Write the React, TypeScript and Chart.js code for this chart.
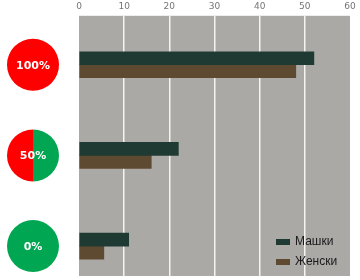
import React, { useEffect, useRef } from "react";
import { Chart, registerables } from "chart.js";

Chart.register(...registerables);

const categories = ["100%", "50%", "0%"];
const redShare = [100, 50, 0];
const maleValues = [52, 22, 11];
const femaleValues = [48, 16, 5.5];
const seriesLabels = ["Машки", "Женски"];
const seriesColors = ["#1f3a33", "#5e4a31"];
const xTicks = [0, 10, 20, 30, 40, 50, 60];

const bgPlugin = {
  id: "bgPlugin",
  beforeDraw(chart: any) {
    const { ctx, chartArea } = chart;
    ctx.save();
    ctx.fillStyle = "#aaa9a6";
    ctx.fillRect(chartArea.left, chartArea.top, chartArea.right - chartArea.left, chartArea.bottom - chartArea.top);
    ctx.restore();
  },
};

const sidePlugin = {
  id: "sidePlugin",
  afterDraw(chart: any) {
    const { ctx, chartArea } = chart;
    const yScale = chart.scales.y;
    ctx.save();
    categories.forEach((label, i) => {
      const cy = yScale.getPixelForValue(i);
      const cx = chartArea.left - 46;
      const r = 26;
      const f = redShare[i] / 100;
      const start = -Math.PI / 2;
      if (f < 1) {
        ctx.beginPath();
        ctx.moveTo(cx, cy);
        ctx.arc(cx, cy, r, start, start + (1 - f) * Math.PI * 2, false);
        ctx.closePath();
        ctx.fillStyle = "#00a651";
        ctx.fill();
      }
      if (f > 0) {
        ctx.beginPath();
        ctx.moveTo(cx, cy);
        ctx.arc(cx, cy, r, start, start - f * Math.PI * 2, true);
        ctx.closePath();
        ctx.fillStyle = "#ff0000";
        ctx.fill();
      }
      ctx.fillStyle = "#ffffff";
      ctx.font = "bold 11px 'DejaVu Sans', sans-serif";
      ctx.textAlign = "center";
      ctx.textBaseline = "middle";
      ctx.fillText(label, cx, cy + 1);
    });
    // legend
    const lx = chartArea.right - 74;
    seriesLabels.forEach((label, i) => {
      const ly = chartArea.bottom - 34 + i * 20;
      ctx.fillStyle = seriesColors[i];
      ctx.fillRect(lx, ly - 3, 14, 6);
      ctx.fillStyle = "#1a1a1a";
      ctx.font = "12px 'Liberation Sans', Arial, sans-serif";
      ctx.textAlign = "left";
      ctx.textBaseline = "middle";
      ctx.fillText(label, lx + 19, ly);
    });
    ctx.restore();
  },
};

export default function App() {
  const ref = useRef<HTMLCanvasElement | null>(null);
  useEffect(() => {
    if (!ref.current) return;
    const chart = new Chart(ref.current, {
      type: "bar",
      data: {
        datasets: [
          {
            label: seriesLabels[0],
            data: maleValues.map((v, i) => ({ x: v, y: i })),
            backgroundColor: seriesColors[0],
            barThickness: 13,
          },
          {
            label: seriesLabels[1],
            data: femaleValues.map((v, i) => ({ x: v, y: i })),
            backgroundColor: seriesColors[1],
            barThickness: 13,
          },
        ],
      },
      options: {
        indexAxis: "y",
        animation: false,
        responsive: false,
        maintainAspectRatio: false,
        layout: { padding: { left: 79, right: 10, top: -3, bottom: 4 } },
        plugins: { legend: { display: false }, tooltip: { enabled: false } },
        scales: {
          x: {
            type: "linear",
            position: "top",
            min: xTicks[0],
            max: xTicks[xTicks.length - 1],
            afterBuildTicks: (axis: any) => {
              axis.ticks = xTicks.map((v) => ({ value: v }));
            },
            ticks: {
              color: "#747474",
              font: { size: 9, family: "'DejaVu Sans', sans-serif" },
              padding: 4,
            },
            grid: {
              drawTicks: false,
              lineWidth: 1.5,
              color: (c: any) =>
                c.tick && (c.tick.value === 0 || c.tick.value === 60) ? "rgba(0,0,0,0)" : "#f4f4f0",
            },
            border: { display: false },
          },
          y: {
            type: "linear",
            reverse: true,
            offset: false,
            min: -0.54,
            max: 2.33,
            display: false,
            grid: { offset: false },
          },
        },
      },
      plugins: [bgPlugin, sidePlugin],
    } as any);
    return () => chart.destroy();
  }, []);
  return (
    <div style={{ position: "absolute", left: 0, top: 0, width: 360, height: 280, background: "#fff" }}>
      <canvas ref={ref} width={360} height={280} style={{ display: "block" }} />
    </div>
  );
}
